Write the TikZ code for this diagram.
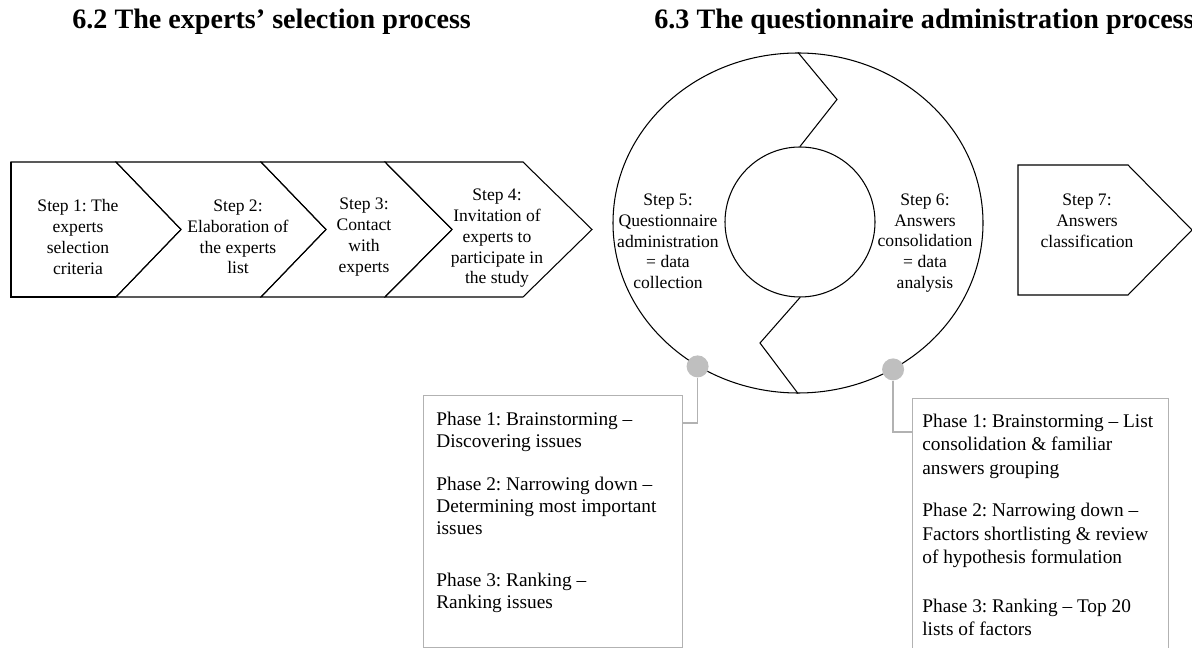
\documentclass[tikz,border=0pt]{standalone}
\usepackage{fontspec}
\setmainfont{Liberation Serif}
\usetikzlibrary{shapes.geometric,positioning}
\frenchspacing

\begin{document}
\begin{tikzpicture}[
    chevron/.style={draw=black, line width=0.6pt, line join=miter},
    step text/.style={align=center, font=\fontsize{10}{11.8}\selectfont, inner sep=0pt},
    heading/.style={anchor=base west, inner sep=0pt, font=\fontsize{16}{19}\selectfont\bfseries},
    hub/.style={ellipse, draw=black, line width=0.6pt, minimum width=7.4cm, minimum height=6.8cm, inner sep=0pt},
    core/.style={circle, draw=black, line width=0.6pt, minimum size=3cm, inner sep=0pt},
    knob/.style={circle, fill=black!25, minimum size=0.44cm, inner sep=0pt},
    leader/.style={draw=black!30, line width=0.8pt},
    phase frame/.style={draw=black!30, line width=0.6pt, anchor=north west, inner sep=0pt},
    phase text/.style={anchor=north west, align=left, font=\fontsize{11}{12.5}\selectfont}
]
\useasboundingbox (0,0) rectangle (23.84,12.96);

% headings
\node[heading] (h62) at (1.44,12.38) {6.2 The experts' selection process};
\node[heading] (h63) at (13.08,12.38) {6.3 The questionnaire administration process};

% selection process, steps 1-4
\draw[chevron] (0.22,9.72) -- (2.32,9.72) -- (3.62,8.37) -- (2.32,7.02) -- (0.22,7.02) -- cycle;
\draw[line width=1.2pt] (0.22,9.72) -- (0.22,7.02) -- (2.32,7.02);
\draw[chevron] (2.32,9.72) -- (5.22,9.72) -- (6.52,8.37) -- (5.22,7.02) -- (2.32,7.02) -- (3.62,8.37) -- cycle;
\draw[chevron] (5.22,9.72) -- (7.70,9.72) -- (9.04,8.37) -- (7.70,7.02) -- (5.22,7.02) -- (6.52,8.37) -- cycle;
\draw[chevron] (7.70,9.72) -- (10.46,9.72) -- (11.84,8.37) -- (10.46,7.02) -- (7.70,7.02) -- (9.04,8.37) -- cycle;

\node[step text] (s1) at (1.56,8.22) {Step 1: The\\experts\\selection\\criteria};
\node[step text] (s2) at (4.76,8.22) {Step 2:\\Elaboration of\\the experts\\list};
\node[step text] (s3) at (7.28,8.22) {Step 3:\\Contact\\with\\experts};
\node[step text] (s4) at (9.94,8.19) {Step 4:\\Invitation of\\experts to\\participate in\\the study};

% administration cycle, steps 5-6
\node[hub] (hub) at (15.96,8.5) {};
\node[core] (core) at (16.0,8.52) {};
\draw[chevron] (hub.north) -- ++(0.78,-0.94) -- (core.north);
\draw[chevron] (core.south) -- (15.2,6.1) -- (hub.south);

\node[step text] (s5) at (13.36,8.13) {Step 5:\\Questionnaire\\administration\\= data\\collection};
\node[step text] (s6) at (18.5,8.10) {Step 6:\\Answers\\consolidation\\= data\\analysis};

% step 7
\draw[chevron] (20.36,9.66) -- (22.56,9.66) -- (23.84,8.36) -- (22.56,7.06) -- (20.36,7.06) -- cycle;
\node[step text] (s7) at (21.74,8.54) {Step 7:\\Answers\\classification};

% phase boxes
\node[phase frame, minimum width=5.18cm, minimum height=5.04cm] (f5) at (8.46,5.06) {};
\node[phase frame, minimum width=5.12cm, minimum height=5.3cm] (f6) at (18.24,5.0) {};

\node[phase text, inner xsep=0.26cm, inner ysep=0.34cm] (t5) at (f5.north west)
    {Phase 1: Brainstorming --\\Discovering issues\\[0.426cm]Phase 2: Narrowing down --\\Determining most important\\issues\\[0.59cm]Phase 3: Ranking --\\Ranking issues};
\node[phase text, font=\fontsize{11}{13.2}\selectfont, inner xsep=0.2cm, inner ysep=0.32cm] (t6) at (f6.north west)
    {Phase 1: Brainstorming -- List\\consolidation \& familiar\\answers grouping\\[0.392cm]Phase 2: Narrowing down --\\Factors shortlisting \& review\\of hypothesis formulation\\[0.512cm]Phase 3: Ranking -- Top 20\\lists of factors};

\node[knob] (k5) at (hub.235) {};
\node[knob] (k6) at (hub.303) {};
\draw[leader] (k5) |- ([yshift=-0.56cm]f5.north east);
\draw[leader] (k6) |- ([yshift=-0.68cm]f6.north west);

\end{tikzpicture}
\end{document}
